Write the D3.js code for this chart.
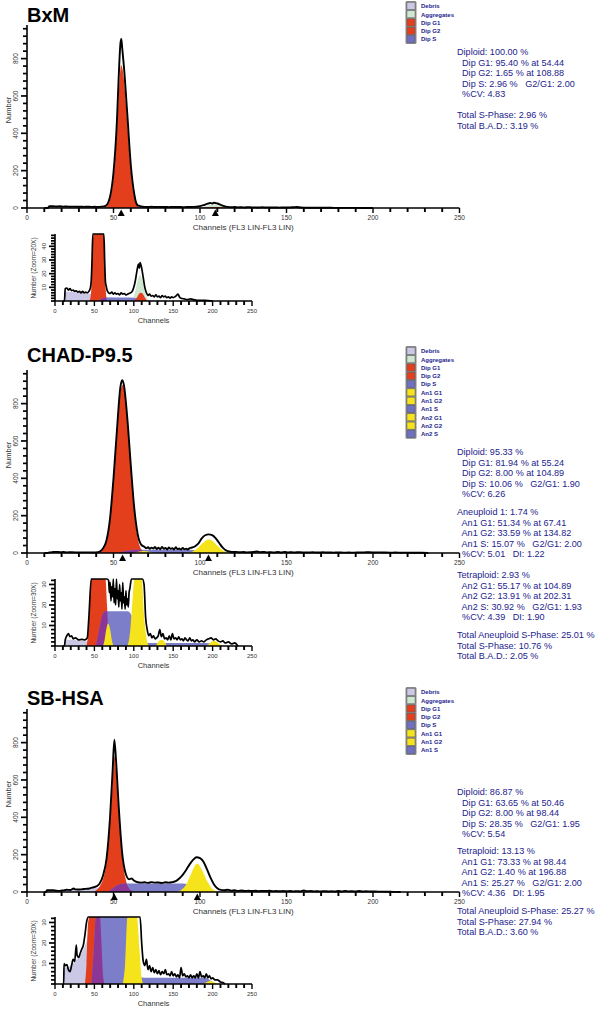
<!DOCTYPE html>
<html><head><meta charset="utf-8">
<script src="https://cdn.jsdelivr.net/npm/d3@7"></script>
<style>
body{margin:0;background:#fff;}
svg{display:block;font-family:"Liberation Sans",Arial,sans-serif;}
.stat{white-space:pre;}
</style>
</head><body>
<svg id="c" width="600" height="1011"></svg>
<script>
// ---------------- DATA ----------------
const channelTicks = [0, 50, 100, 150, 200, 250];
const mainCountTicks = [0, 200, 400, 600, 800];

// BxM
const bxmOutline = [[10,0],[12,0],[13,9],[15,9.5],[17,8],[19,9],[21,7.5],[23,8],[25,7],[27,7.5],[29,6.5],[31,7],[33,6],[35,7],[37,6],[39,6.5],[41,6],[43,7],[45,10],[46,15],[47,30],[48,60],[50,190],[52,470],[53,700],[54,880],[54.5,905],[55,860],[56,760],[58,500],[60,230],[62,75],[63,30],[64,14],[65,11],[66,8],[68,6],[70,5.5],[72,6.5],[74,5],[76,6],[78,5],[80,5.5],[82,4.5],[84,6],[86,5],[88,5.5],[90,4.5],[92,5],[94,5.5],[96,6],[98,7],[100,10],[102,15],[104,22],[106,27],[107,24],[108,28],[110,24],[112,17],[114,10],[116,6],[118,4],[120,5],[122,3.5],[124,4],[126,3],[128,4.5],[130,3],[132,3.5],[134,2.5],[136,4],[138,3],[140,3.5],[142,2.5],[144,3],[146,2],[148,3],[150,2.5],[152,3],[154,4],[156,5],[158,3],[160,2],[164,1.5],[168,1],[172,1.5],[176,1],[180,0.5],[190,0.5],[200,0]];
const bxmDebris = [[12,0],[13,7],[20,6.5],[30,6],[40,5.5],[48,5],[60,3.5],[80,2],[100,1.2],[130,0.5],[160,0]];
const bxmAggregates = [[96,0],[101,5],[105,15],[108,19],[111,15],[115,5],[120,0]];
const bxmDipG1 = [[44,0],[46,8],[48,45],[50,160],[52,420],[53,600],[54.4,765],[56,690],[57,580],[58,450],[60,200],[62,60],[64,12],[66,0]];
const bxmDipG2 = [[101,0],[104,2.5],[107,5.5],[109,6],[111,5.5],[114,2.5],[117,0]];
const bxmDipS = [[56,0],[60,2],[70,2.5],[90,2.5],[100,2.3],[106,1.5],[112,0]];
const bxmPeaks = [54.44, 108.88];
const bxmStats = [
  ["Diploid: 100.00 %", "  Dip G1: 95.40 % at 54.44", "  Dip G2: 1.65 % at 108.88", "  Dip S: 2.96 %   G2/G1: 2.00", "  %CV: 4.83"],
  ["Total S-Phase: 2.96 %", "Total B.A.D.: 3.19 %"]
];
const bxmLegend = ["Debris","Aggregates","Dip G1","Dip G2","Dip S"];

// CHAD-P9.5
const chadOutline = [[10,0],[12,0],[13,3],[15,5],[17,6],[19,4.5],[21,5],[23,3.5],[26,4],[30,3],[34,3.2],[38,3],[41,4],[43,14],[46,70],[48,185],[50,400],[52,660],[54,890],[55,925],[56,900],[58,720],[60,470],[62,240],[64,100],[66,45],[68,32],[69,26],[70,31],[71,22],[72,29],[73,24],[74,33],[75,21],[76,28],[77,20],[78,33],[79,23],[80,27],[81,19],[82,30],[83,22],[84,26],[85,18],[86,31],[87,21],[88,24],[89,18],[90,27],[91,20],[92,23],[93,19],[94,26],[95,28],[97,35],[99,50],[101,78],[103,95],[105,100],[107,96],[109,80],[111,55],[113,30],[115,14],[117,8],[119,5],[121,6],[123,4],[125,5],[127,3.5],[129,4],[131,5],[133,8],[135,4.5],[137,6],[139,3.5],[141,4],[143,3],[145,5],[147,3],[149,6],[151,3.5],[153,4],[155,3],[157,4.5],[159,3],[161,3.5],[163,2.5],[165,4],[167,3],[169,2.5],[171,4],[173,2.5],[175,3],[177,2],[180,3],[183,2],[186,2.5],[189,2],[192,3],[195,3.5],[198,4],[201,3],[204,3.5],[207,2.5],[210,2],[213,2.5],[216,1.5],[220,2],[224,1],[228,1.5],[232,0]];
const chadDebris = [[12,0],[13,3],[20,3],[30,2.6],[40,2.3],[50,2],[70,1.5],[100,1],[150,0.5],[200,0]];
const chadDipG1 = [[40,0],[43,10],[46,60],[48,170],[50,380],[52,640],[54,860],[55.2,900],[56.5,860],[58,700],[60,450],[62,220],[64,80],[66,20],[68,3],[70,0]];
const chadDipG2 = [[96,0],[100,14],[104.9,24],[110,14],[114,0]];
const chadDipS = [[52,0],[56,8],[60,15],[64,17],[80,17],[92,17],[97,15],[100,8],[104,0]];
const chadAn1G1 = [[61,0],[63,3],[65,8],[67.4,11],[70,8],[72,3],[74,0]];
const chadAn1G2 = [[128,0],[131,2],[135,3],[139,2],[142,0]];
const chadAn2G1 = [[92,0],[95,6],[98,20],[101,48],[104,70],[105,72],[107,66],[110,40],[113,15],[116,4],[119,0]];
const chadAn2G2 = [[192,0],[197,1.5],[202,2.5],[207,1.5],[212,0]];
const chadAn2S = [[108,0],[115,1.5],[190,1.5],[200,1],[205,0]];
const chadPeaks = [55.24, 104.89];
const chadStats = [
  ["Diploid: 95.33 %", "  Dip G1: 81.94 % at 55.24", "  Dip G2: 8.00 % at 104.89", "  Dip S: 10.06 %   G2/G1: 1.90", "  %CV: 6.26"],
  ["Aneuploid 1: 1.74 %", "  An1 G1: 51.34 % at 67.41", "  An1 G2: 33.59 % at 134.82", "  An1 S: 15.07 %   G2/G1: 2.00", "  %CV: 5.01   DI: 1.22"],
  ["Tetraploid: 2.93 %", "  An2 G1: 55.17 % at 104.89", "  An2 G2: 13.91 % at 202.31", "  An2 S: 30.92 %   G2/G1: 1.93", "  %CV: 4.39   DI: 1.90"],
  ["Total Aneuploid S-Phase: 25.01 %", "Total S-Phase: 10.76 %", "Total B.A.D.: 2.05 %"]
];
const chadLegend = ["Debris","Aggregates","Dip G1","Dip G2","Dip S","An1 G1","An1 G2","An1 S","An2 G1","An2 G2","An2 S"];

// SB-HSA
const sbOutline = [[10,0],[11,0],[11.5,10],[13,9],[15,9.5],[17,7],[19,6],[21,9],[23,12],[25,11],[27,19],[28,14],[30,13],[32,15],[34,17],[36,19],[38,24],[40,30],[42,45],[44,90],[46,180],[48,400],[49.5,650],[50.5,815],[51.5,700],[53,460],[55,210],[57,100],[59,68],[60.5,72],[62,60],[64,52],[66,50],[68,52],[70,49],[72,53],[74,50],[76,51],[78,48],[80,52],[82,50],[84,53],[86,58],[88,72],[90,92],[92,118],[94,148],[96,172],[98,186],[100,181],[102,162],[104,122],[106,78],[108,42],[110,20],[112,11],[114,9],[116,12],[118,7],[120,9],[122,6],[124,8],[126,5.5],[128,7],[130,5],[132,6.5],[134,4.5],[136,6],[138,5],[140,7],[142,4.5],[144,5],[146,4],[148,6],[150,4],[152,5],[154,3.5],[156,4.5],[158,3],[160,8],[162,4],[164,5],[166,3.5],[168,4],[170,3],[172,4.5],[174,3],[176,4],[178,3],[180,5],[182,3],[184,6],[186,3.5],[188,4],[190,3],[192,5],[194,3],[196,4],[198,2.5],[200,3],[203,2],[206,2],[210,1],[214,0.5],[216,0]];
const sbDebris = [[11,0],[12,8],[16,8],[20,9],[25,11],[30,13],[35,16],[40,21],[42,24],[46,20],[50,15],[60,10],[80,6],[100,4],[130,2],[160,1],[200,0]];
const sbAggregates = [[100,0],[106,2],[110,3],[115,2],[120,0]];
const sbDipG1 = [[38,0],[40,10],[42,30],[44,70],[46,160],[48,370],[49.5,580],[50.5,730],[51.5,640],[53,420],[55,190],[57,70],[59,20],[61,4],[63,0]];
const sbDipG2 = [[92,0],[96,15],[98.4,20],[101,15],[105,0]];
const sbDipS = [[46,0],[49,15],[52,35],[55,44],[58,46],[75,45],[90,45],[93,40],[96,25],[100,8],[104,0]];
const sbAn1G1 = [[86,0],[89,10],[92,40],[95,100],[98.4,152],[101,120],[104,60],[107,18],[110,3],[112,0]];
const sbAn1G2 = [[188,0],[193,1],[197,1.5],[201,1],[206,0]];
const sbAn1S = [[100,0],[106,3],[190,3],[198,1.5],[204,0]];
const sbPeaks = [50.46, 98.44];
const sbStats = [
  ["Diploid: 86.87 %", "  Dip G1: 63.65 % at 50.46", "  Dip G2: 8.00 % at 98.44", "  Dip S: 28.35 %   G2/G1: 1.95", "  %CV: 5.54"],
  ["Tetraploid: 13.13 %", "  An1 G1: 73.33 % at 98.44", "  An1 G2: 1.40 % at 196.88", "  An1 S: 25.27 %   G2/G1: 2.00", "  %CV: 4.36   DI: 1.95"],
  ["Total Aneuploid S-Phase: 25.27 %", "Total S-Phase: 27.94 %", "Total B.A.D.: 3.60 %"]
];
const sbLegend = ["Debris","Aggregates","Dip G1","Dip G2","Dip S","An1 G1","An1 G2","An1 S"];

// ---------------- STYLE / LAYOUT ----------------
const colors = {debris:"#cbc8e6", agg:"#cfe6d1", dip:"#e33f1d", s:"#7c7ec9", an:"#f5e31b"};
const overlapColor = "#8c3696";
const legendColor = n => n==="Debris"?colors.debris : n==="Aggregates"?colors.agg :
  (n.startsWith("Dip G"))?colors.dip : n.endsWith(" S")?"#6f70c2" : colors.an;
const navy = "#23238c";

const panels = [
  {title:"BxM", titleBase:22, mainBase:208, insetBase:301, zoom:20,
   comps:[[bxmDebris,"debris"],[bxmAggregates,"agg"],[bxmDipG1,"dip"],[bxmDipS,"s"],[bxmDipG2,"dip"]],
   outline:bxmOutline, peaks:bxmPeaks, legend:bxmLegend, legendY:6, stats:bxmStats, statsY:[52,115]},
  {title:"CHAD-P9.5", titleBase:362, mainBase:553, insetBase:646, zoom:30,
   comps:[[chadDebris,"debris"],[chadDipG1,"dip"],[chadDipG2,"dip"],[chadDipS,"s"],[chadAn2S,"s"],[chadAn1G1,"an"],[chadAn1G2,"an"],[chadAn2G1,"an"],[chadAn2G2,"an"]],
   outline:chadOutline, peaks:chadPeaks, legend:chadLegend, legendY:351, stats:chadStats, statsY:[452,512,575,635]},
  {title:"SB-HSA", titleBase:705, mainBase:892, insetBase:984, zoom:30,
   comps:[[sbDebris,"debris"],[sbAggregates,"agg"],[sbDipG1,"dip"],[sbDipG2,"dip"],[sbDipS,"s"],[sbAn1S,"s"],[sbAn1G1,"an"],[sbAn1G2,"an"]],
   outline:sbOutline, peaks:sbPeaks, legend:sbLegend, legendY:692, stats:sbStats, statsY:[792,851,911]}
];

const svg = d3.select("#c");
const defs = svg.append("defs");
const MAIN_MAX = 980, MAIN_H = 183, INSET_H = 67;

function drawAxes(g, x, y, base, opts){
  g.append("line").attr("x1",x.range()[0]).attr("x2",x.range()[1]).attr("y1",base).attr("y2",base)
   .attr("stroke","#000").attr("stroke-width",1.6);
  g.selectAll(null).data(d3.range(0,251,10)).join("line")
   .attr("x1",d=>x(d)).attr("x2",d=>x(d)).attr("y1",base).attr("y2",d=>base+(d%50===0?5:4))
   .attr("stroke","#000").attr("stroke-width",d=>d%50===0?1.4:1.9);
  g.selectAll(null).data(channelTicks).join("text")
   .attr("x",d=>x(d)).attr("y",base+12).attr("text-anchor","middle")
   .attr("font-size",opts.tickFont).attr("fill","#333").text(d=>d);
  const y0 = y.range()[0], y1 = y.range()[1];
  g.append("line").attr("x1",x(0)).attr("x2",x(0)).attr("y1",y0).attr("y2",y1)
   .attr("stroke","#000").attr("stroke-width",1.6);
  g.selectAll(null).data(opts.minor).join("line")
   .attr("x1",x(0)).attr("x2",d=>x(0)-(opts.major.includes(d)?6:4)).attr("y1",d=>y(d)).attr("y2",d=>y(d))
   .attr("stroke","#000").attr("stroke-width",1.7);
  g.selectAll(null).data(opts.major).join("text")
   .attr("transform",d=>`translate(${x(0)-9},${y(d)}) rotate(-90)`)
   .attr("text-anchor","middle").attr("font-size",opts.tickFont).attr("fill","#333").text(d=>d);
}

function drawComps(g, p, area, id){
  // clip = union of the diploid G1/G2 shapes, used to colour the S-phase overlap purple
  const cp = defs.append("clipPath").attr("id",id);
  p.comps.filter(c=>c[1]==="dip").forEach(([data])=>cp.append("path").attr("d",area(data)));
  p.comps.forEach(([data,type])=>{
    g.append("path").attr("d",area(data)).attr("fill",colors[type]);
    if(type==="s"){
      g.append("path").attr("d",area(data)).attr("fill",overlapColor).attr("clip-path",`url(#${id})`);
    }
  });
}

panels.forEach((p,pi)=>{
  const g = svg.append("g");
  g.append("text").attr("x",27).attr("y",p.titleBase).attr("font-size",20).attr("font-weight","bold")
   .attr("fill","#000").text(p.title);

  // ---- main plot
  const x = d3.scaleLinear().domain([0,250]).range([27,459.5]);
  const y = d3.scaleLinear().domain([0,MAIN_MAX]).range([p.mainBase,p.mainBase-MAIN_H]).clamp(true);
  const area = d3.area().x(d=>x(d[0])).y0(p.mainBase).y1(d=>y(d[1])).curve(d3.curveMonotoneX);
  const line = d3.line().x(d=>x(d[0])).y(d=>y(d[1])).curve(d3.curveMonotoneX);
  const mg = g.append("g");
  drawComps(mg, p, area, "ovm"+pi);
  mg.append("path").attr("d",line(p.outline)).attr("fill","none").attr("stroke","#000").attr("stroke-width",1.9).attr("stroke-linejoin","round");
  drawAxes(g,x,y,p.mainBase,{tickFont:6.5,minor:d3.range(0,961,40),major:mainCountTicks});
  g.selectAll(null).data(p.peaks).join("path")
   .attr("d",d=>`M${x(d)-3.5},${p.mainBase+8}L${x(d)+3.5},${p.mainBase+8}L${x(d)},${p.mainBase+1.5}Z`)
   .attr("fill","#000");
  g.append("text").attr("x",(x(0)+x(250))/2).attr("y",p.mainBase+22).attr("text-anchor","middle")
   .attr("font-size",8).attr("fill","#333").text("Channels (FL3 LIN-FL3 LIN)");
  g.append("text").attr("transform",`translate(11,${p.mainBase-98}) rotate(-90)`).attr("text-anchor","middle")
   .attr("font-size",7.5).attr("fill","#333").text("Number");

  // ---- inset (zoomed, clamped at the top)
  const xi = d3.scaleLinear().domain([0,250]).range([55,252]);
  const imax = MAIN_MAX/p.zoom;
  const yi = d3.scaleLinear().domain([0,imax]).range([p.insetBase,p.insetBase-INSET_H]).clamp(true);
  const areaI = d3.area().x(d=>xi(d[0])).y0(p.insetBase).y1(d=>yi(d[1])).curve(d3.curveMonotoneX);
  const lineI = d3.line().x(d=>xi(d[0])).y(d=>yi(d[1])).curve(d3.curveMonotoneX);
  const ig = g.append("g");
  drawComps(ig, p, areaI, "ovi"+pi);
  ig.append("path").attr("d",lineI(p.outline)).attr("fill","none").attr("stroke","#000").attr("stroke-width",1.7).attr("stroke-linejoin","round");
  const imajor = d3.range(10,imax,10);
  drawAxes(g,xi,yi,p.insetBase,{tickFont:6,minor:d3.range(0,imax,2),major:imajor});
  g.append("text").attr("x",(xi(0)+xi(250))/2).attr("y",p.insetBase+22).attr("text-anchor","middle")
   .attr("font-size",7.5).attr("fill","#333").text("Channels");
  g.append("text").attr("transform",`translate(36,${p.insetBase-33}) rotate(-90)`).attr("text-anchor","middle")
   .attr("font-size",6.5).attr("fill","#333").text(`Number (Zoom=${p.zoom}X)`);

  // ---- legend
  const lg = g.append("g");
  const step = 8.3;
  lg.append("rect").attr("x",405.5).attr("y",p.legendY-5).attr("width",11).attr("height",p.legend.length*step+1.5)
    .attr("rx",1.5).attr("fill","#888");
  lg.selectAll(null).data(p.legend).join("rect")
    .attr("x",407).attr("y",(d,i)=>p.legendY+i*step-3.6).attr("width",8).attr("height",7)
    .attr("fill",d=>legendColor(d)).attr("stroke","#555").attr("stroke-width",0.4);
  lg.selectAll(null).data(p.legend).join("text")
    .attr("x",421).attr("y",(d,i)=>p.legendY+i*step+2.2).attr("font-size",6).attr("font-weight","bold")
    .attr("fill",navy).text(d=>d);

  // ---- stats
  p.stats.forEach((grp,gi)=>{
    g.selectAll(null).data(grp).join("text").attr("class","stat")
     .attr("x",457).attr("y",(d,i)=>p.statsY[gi]+i*10.6+3)
     .attr("font-size",9.1).attr("fill",navy).text(d=>d);
  });
});
</script>
</body></html>
